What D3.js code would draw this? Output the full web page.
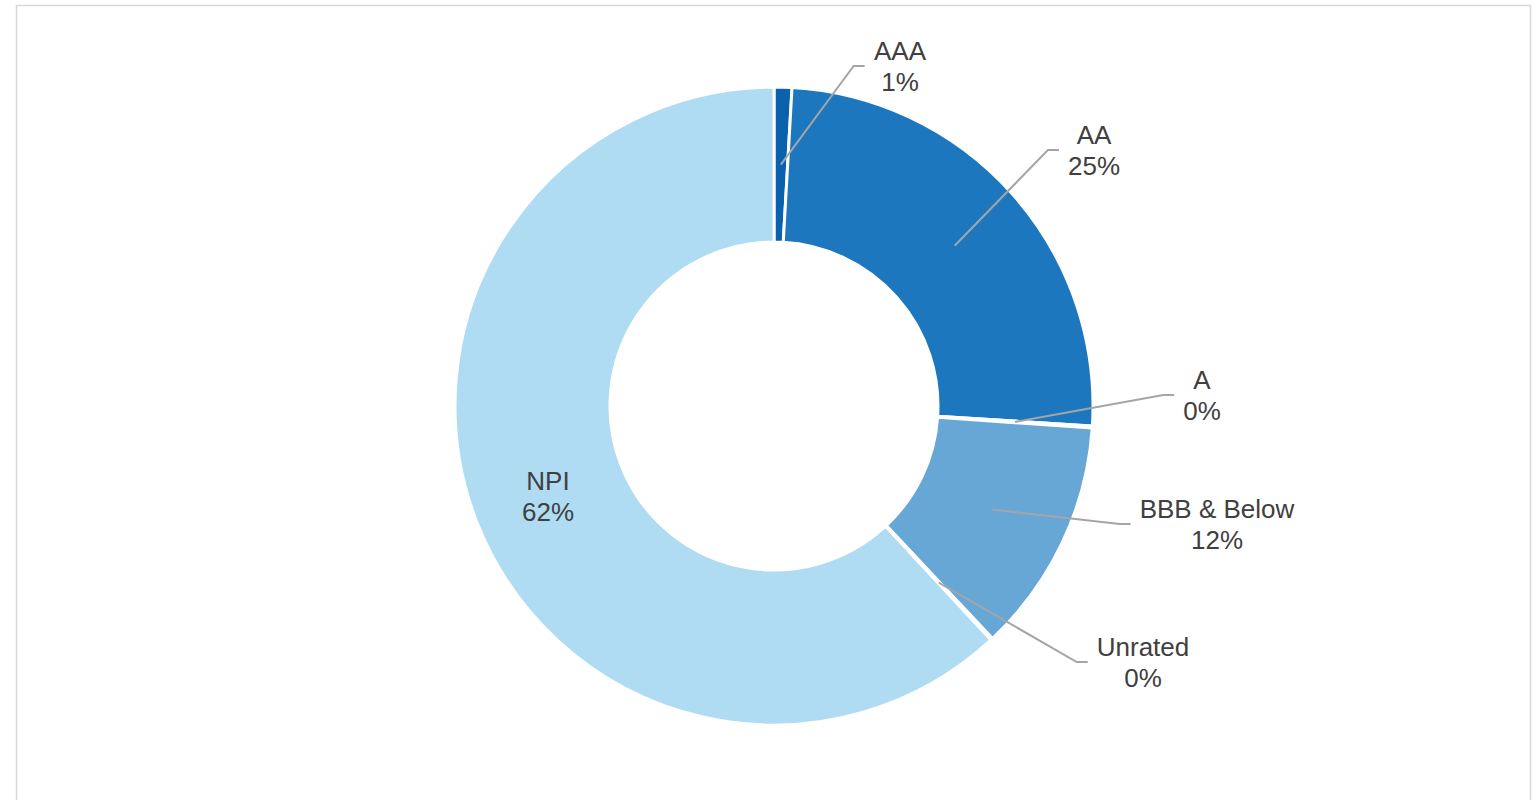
<!DOCTYPE html>
<html>
<head>
<meta charset="utf-8">
<script src="https://cdn.jsdelivr.net/npm/d3@7"></script>
<style>
  body { margin: 0; background: #fff; }
  .label { font-family: "Liberation Sans", Arial, sans-serif; font-size: 26px; fill: #404040; }
</style>
</head>
<body>
<div class="chart"></div>
<script>
  // data
  var categories = ["AAA", "AA", "A", "BBB & Below", "Unrated", "NPI"];
  var values = [0.9, 25.1, 0.1, 11.9, 0.1, 61.9];
  var percentLabels = ["1%", "25%", "0%", "12%", "0%", "62%"];

  // colours
  var colors = ["#0a62ae", "#1c77bf", "#3b8fcf", "#66a7d6", "#8fc3e6", "#afdcf2"];

  // dimensions
  var width = 1537, height = 800;
  var cx = 774, cy = 406;
  var outerR = 319, innerR = 164;

  // label centres relative to the donut centre (NPI sits on the slice)
  var labelCentres = [[126, -340], [320, -256], [428, -11], [443, 118], [369, 256], [-226, 90]];

  var svg = d3.select(".chart")
    .append("svg")
    .attr("width", width)
    .attr("height", height);

  // frame
  svg.append("rect")
    .attr("x", 16.5)
    .attr("y", 5.5)
    .attr("width", 1514)
    .attr("height", 820)
    .attr("fill", "none")
    .attr("stroke", "#d9d9d9")
    .attr("stroke-width", 1.5);

  var g = svg.append("g")
    .attr("transform", "translate(" + cx + "," + cy + ")");

  var pie = d3.pie().sort(null).value(function(d) { return d; });
  var arcs = pie(values);

  var arc = d3.arc().innerRadius(innerR).outerRadius(outerR);
  var midArc = d3.arc().innerRadius((innerR + outerR) / 2).outerRadius((innerR + outerR) / 2);

  g.selectAll(".slice")
    .data(arcs)
    .enter()
    .append("path")
    .attr("class", "slice")
    .attr("d", arc)
    .attr("fill", function(d, i) { return colors[i]; })
    .attr("stroke", "#fff")
    .attr("stroke-width", 3);

  // labels
  var lineH = 31;
  arcs.forEach(function(d, i) {
    var lc = labelCentres[i];
    var t = g.append("text")
      .attr("class", "label")
      .attr("text-anchor", "middle");
    t.append("tspan")
      .attr("x", lc[0])
      .attr("y", lc[1] - lineH / 2 + 9)
      .text(categories[i]);
    t.append("tspan")
      .attr("x", lc[0])
      .attr("y", lc[1] + lineH / 2 + 9)
      .text(percentLabels[i]);

    if (categories[i] === "NPI") return;

    // leader line: from slice centroid to an elbow, then a short horizontal to the label
    var w = t.node().getBBox().width;
    var endX = lc[0] - w / 2 - 9;
    var elbowX = endX - 11;
    var c = midArc.centroid(d);
    g.append("polyline")
      .attr("points", [c, [elbowX, lc[1]], [endX, lc[1]]].map(function(p) { return p.join(","); }).join(" "))
      .attr("fill", "none")
      .attr("stroke", "#a5a5a5")
      .attr("stroke-width", 2);
  });
</script>
</body>
</html>
